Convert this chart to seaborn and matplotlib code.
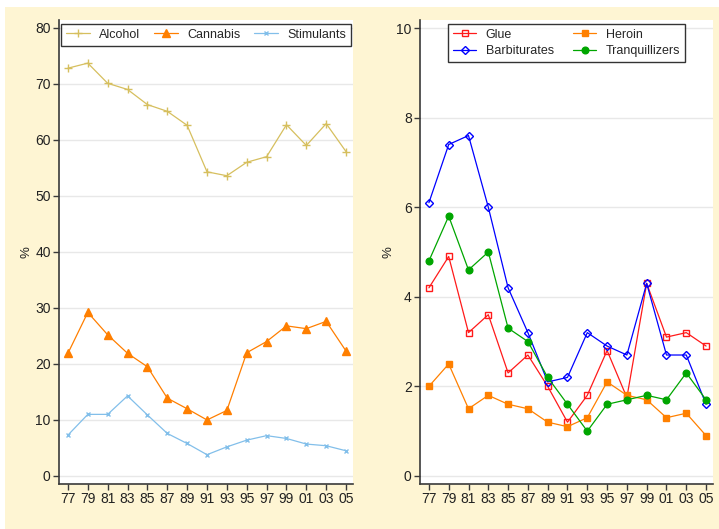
import matplotlib
matplotlib.use("Agg")
import matplotlib.pyplot as plt
from matplotlib.patches import Rectangle
import pandas as pd
import seaborn as sns

# survey years (19xx / 20xx)
years = [1977, 1979, 1981, 1983, 1985, 1987, 1989, 1991, 1993, 1995, 1997, 1999, 2001, 2003, 2005]
year_labels = ["77", "79", "81", "83", "85", "87", "89", "91", "93", "95", "97", "99", "01", "03", "05"]

# left panel (%)
alcohol = [72.8, 73.7, 70.1, 69.0, 66.3, 65.1, 62.6, 54.3, 53.6, 56.0, 57.0, 62.7, 59.0, 62.9, 57.9]
cannabis = [21.9, 29.2, 25.2, 21.9, 19.5, 13.9, 12.0, 10.0, 11.7, 22.0, 24.0, 26.8, 26.3, 27.6, 22.3]
stimulants = [7.3, 11.0, 11.0, 14.3, 10.9, 7.6, 5.8, 3.8, 5.2, 6.4, 7.2, 6.7, 5.7, 5.4, 4.5]

# right panel (%)
glue = [4.2, 4.9, 3.2, 3.6, 2.3, 2.7, 2.0, 1.2, 1.8, 2.8, 1.75, 4.3, 3.1, 3.2, 2.9]
heroin = [2.0, 2.5, 1.5, 1.8, 1.6, 1.5, 1.2, 1.1, 1.3, 2.1, 1.8, 1.7, 1.3, 1.4, 0.9]
barbiturates = [6.1, 7.4, 7.6, 6.0, 4.2, 3.2, 2.1, 2.2, 3.2, 2.9, 2.7, 4.3, 2.7, 2.7, 1.6]
tranquillizers = [4.8, 5.8, 4.6, 5.0, 3.3, 3.0, 2.2, 1.6, 1.0, 1.6, 1.7, 1.8, 1.7, 2.3, 1.7]

left_df = pd.DataFrame({"year": years, "Alcohol": alcohol, "Cannabis": cannabis,
                        "Stimulants": stimulants})
right_df = pd.DataFrame({"year": years, "Glue": glue, "Heroin": heroin,
                         "Barbiturates": barbiturates, "Tranquillizers": tranquillizers})

sns.set_theme(style="white")
plt.rcParams["font.family"] = ["Liberation Sans", "DejaVu Sans"]

bg = "#fef5d3"
axis_col = "#3a3a3a"

fig = plt.figure(figsize=(7.19, 5.29), dpi=100, facecolor="white")
fig.patches.append(Rectangle((5 / 719, 0), 1, 1 - 7 / 529, transform=fig.transFigure,
                             facecolor=bg, edgecolor="none", zorder=-10))

ax1 = fig.add_axes([59 / 719, 1 - 484 / 529, 294 / 719, 464 / 529])
ax2 = fig.add_axes([420 / 719, 1 - 484 / 529, 293 / 719, 464 / 529])

# (series, color, marker, marker size, hollow)
left_styles = [
    ("Alcohol", "#d6bf5e", "+", 5.5, False),
    ("Cannabis", "#ff7f00", "^", 5.5, False),
    ("Stimulants", "#82bfea", "x", 3.5, False),
]
right_styles = [
    ("Glue", "#ff1a1a", "s", 4.2, True),
    ("Barbiturates", "#0000ff", "D", 4.2, True),
    ("Heroin", "#ff8000", "s", 4.5, False),
    ("Tranquillizers", "#00a600", "o", 4.8, False),
]


def draw_panel(ax, df, styles, ylim, yticks, ncol, colsp):
    for name, col, mk, ms, hollow in styles:
        sns.lineplot(data=df, x="year", y=name, ax=ax, color=col, marker=mk,
                     markersize=ms, markeredgecolor=col,
                     markerfacecolor="none" if hollow else col,
                     markeredgewidth=1.0, linewidth=0.9, label=name)
    ax.set_facecolor("white")
    ax.set_xlim(1976.1, 2005.7)
    ax.set_ylim(*ylim)
    ax.set_xticks(years)
    ax.set_xticklabels(year_labels)
    ax.set_yticks(yticks)
    ax.yaxis.grid(True, color="#e8e8e8", linewidth=1.0)
    ax.set_axisbelow(True)
    for s in ["top", "right"]:
        ax.spines[s].set_visible(False)
    for s in ["left", "bottom"]:
        ax.spines[s].set_color(axis_col)
        ax.spines[s].set_linewidth(1.2)
    ax.tick_params(axis="both", direction="out", length=4, width=1.0, color=axis_col,
                   labelsize=10, labelcolor="#222222", pad=2, left=True, bottom=True)
    ax.set_xlabel("")
    ax.set_ylabel("%", fontsize=9.5, color="#222222", labelpad=1.5)
    leg = ax.legend(loc="upper center", ncol=ncol, frameon=True, fancybox=False,
                    fontsize=9, borderpad=0.4, handlelength=1.9, columnspacing=colsp,
                    handletextpad=0.75, labelspacing=0.35, borderaxespad=0.3)
    leg.get_frame().set_edgecolor("black")
    leg.get_frame().set_linewidth(1.0)
    return leg


draw_panel(ax1, left_df, left_styles, (-1.43, 81.4), [0, 10, 20, 30, 40, 50, 60, 70, 80], 3, 1.1)
draw_panel(ax2, right_df, right_styles, (-0.18, 10.18), [0, 2, 4, 6, 8, 10], 2, 1.5)

fig.savefig("out.png", dpi=100, facecolor=fig.get_facecolor())
